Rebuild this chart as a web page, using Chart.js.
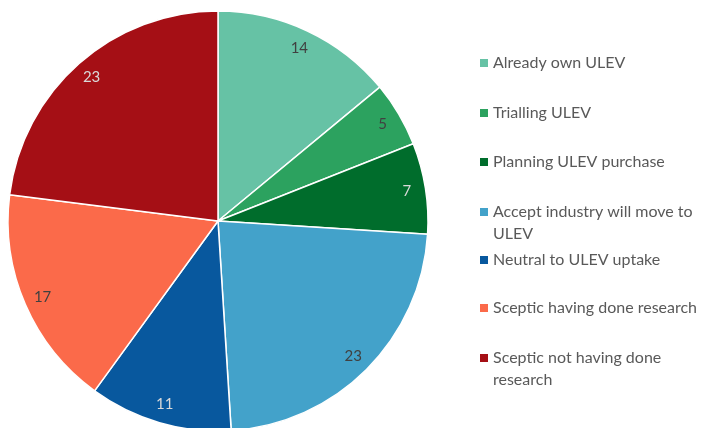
<!DOCTYPE html>
<html>
<head>
<meta charset="utf-8">
<script src="https://cdn.jsdelivr.net/npm/chart.js@4/dist/chart.umd.min.js"></script>
<style>
  html, body { margin: 0; padding: 0; background: #ffffff; overflow: hidden; }
  #wrap { position: relative; width: 701px; height: 428px; overflow: hidden; }
  #wrap canvas { display: block; }
</style>
</head>
<body>
<div id="wrap"><canvas id="c" width="701" height="440"></canvas></div>
<script>
// Attitudes towards ultra-low emission vehicles (ULEV)
const categories = [
  ['Already own ULEV'],
  ['Trialling ULEV'],
  ['Planning ULEV purchase'],
  ['Accept industry will move to', 'ULEV'],
  ['Neutral to ULEV uptake'],
  ['Sceptic having done research'],
  ['Sceptic not having done', 'research']
];
const values = [14, 5, 7, 23, 11, 17, 23];
const colors = ['#66c2a5', '#2ca25f', '#006d2c', '#43a2ca', '#08589e', '#fb6a4a', '#a50f15'];
const labelColors = ['#404040', '#404040', '#d9d9d9', '#404040', '#d9d9d9', '#404040', '#d9d9d9'];
const legendRows = [63, 113, 162, 212, 260, 308, 358];

const FONT = 'Lato, "Open Sans", sans-serif';

// Value labels placed inside each slice near the rim
const sliceLabels = {
  id: 'sliceLabels',
  afterDatasetsDraw(chart) {
    const ctx = chart.ctx;
    const meta = chart.getDatasetMeta(0);
    ctx.save();
    ctx.font = '15px ' + FONT;
    ctx.textAlign = 'center';
    ctx.textBaseline = 'middle';
    meta.data.forEach((arc, i) => {
      const p = arc.getProps(['x', 'y', 'startAngle', 'endAngle', 'outerRadius'], true);
      const mid = (p.startAngle + p.endAngle) / 2;
      const r = p.outerRadius * 0.91;
      ctx.fillStyle = labelColors[i];
      ctx.fillText(String(values[i]), p.x + Math.cos(mid) * r, p.y + Math.sin(mid) * r);
    });
    ctx.restore();
  }
};

// Legend on the right, with wrapped entries
const sideLegend = {
  id: 'sideLegend',
  afterDraw(chart) {
    const ctx = chart.ctx;
    ctx.save();
    ctx.font = '16px ' + FONT;
    ctx.textBaseline = 'middle';
    ctx.textAlign = 'left';
    categories.forEach((lines, i) => {
      const y = legendRows[i];
      ctx.fillStyle = colors[i];
      ctx.fillRect(480, y - 4, 8, 8);
      ctx.fillStyle = '#595959';
      lines.forEach((t, k) => ctx.fillText(t, 493, y + k * 22));
    });
    ctx.restore();
  }
};

new Chart(document.getElementById('c'), {
  type: 'pie',
  data: {
    labels: categories.map(l => l.join(' ')),
    datasets: [{
      data: values,
      backgroundColor: colors,
      borderColor: '#ffffff',
      borderWidth: 1.5,
      radius: 210
    }]
  },
  options: {
    responsive: false,
    animation: false,
    layout: { padding: { left: 8, right: 273, top: 11, bottom: 9 } },
    plugins: {
      legend: { display: false },
      tooltip: { enabled: false }
    }
  },
  plugins: [sliceLabels, sideLegend]
});
</script>
</body>
</html>
